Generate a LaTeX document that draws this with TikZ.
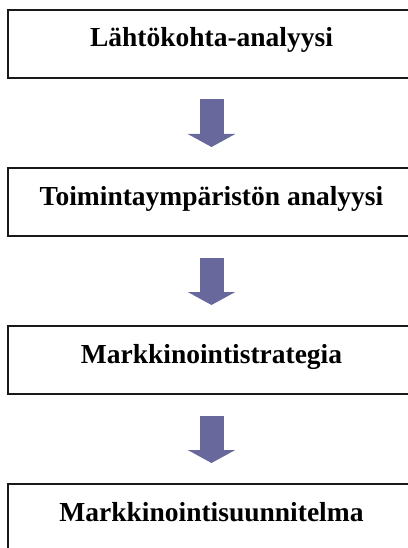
\documentclass[tikz,border=0pt]{standalone}
\usepackage{fontspec}
\setmainfont{Liberation Serif}
\usetikzlibrary{positioning,arrows.meta}
\definecolor{arrowblue}{RGB}{104,104,156}

\begin{document}
\begin{tikzpicture}[x=1pt, y=-1pt,
                    phase/.style={rectangle, draw=black!90, line width=1.5pt, outer sep=0pt,
                                  minimum width=407pt, inner ysep=12pt,
                                  text height=25pt, text depth=19pt,
                                  font=\fontsize{27.5}{33}\selectfont\bfseries},
                    flow/.style={draw=arrowblue, line width=24pt,
                                 -{Triangle[length=13pt, width=47pt]},
                                 shorten <=21.5pt, shorten >=21pt}]
    \useasboundingbox (0,0) rectangle (407,548);

    \node[phase, anchor=north west] (b1) at (8,10) {Lähtökohta-analyysi};
    \node[phase, below=90pt of b1] (b2) {Toimintaympäristön analyysi};
    \node[phase, below=90pt of b2] (b3) {Markkinointistrategia};
    \node[phase, below=90pt of b3] (b4) {Markkinointisuunnitelma};

    % Arrows between phases
    \draw[flow] (b1.south) -- (b2.north);
    \draw[flow] (b2.south) -- (b3.north);
    \draw[flow] (b3.south) -- (b4.north);
\end{tikzpicture}
\end{document}
